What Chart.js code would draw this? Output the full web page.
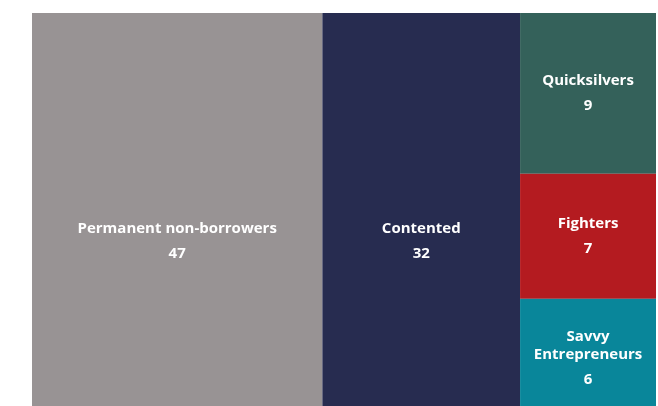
<!DOCTYPE html>
<html>
<head>
<meta charset="utf-8">
<script src="https://cdn.jsdelivr.net/npm/chart.js@4/dist/chart.umd.min.js"></script>
<style>
  html, body { margin: 0; padding: 0; background: #ffffff; }
  #wrap { width: 658px; height: 406px; position: relative; }
</style>
</head>
<body>
<div id="wrap"><canvas id="treeChart"></canvas></div>
<script>
// segments and their share
var categories = ["Permanent non-borrowers", "Contented", "Quicksilvers", "Fighters", "Savvy Entrepreneurs"];
var values = [47, 32, 9, 7, 6];
// which segments share a column (left to right, top to bottom)
var columns = [[0], [1], [2, 3, 4]];
var cellColors = ["#989394", "#272c50", "#34615a", "#b41b20", "#09869a"];

var total = values.reduce(function (a, b) { return a + b; }, 0);

// build cells in data units: x along total, y from 0 to 1
function buildCells() {
  var cells = [];
  var x0 = 0;
  columns.forEach(function (col) {
    var colSum = col.reduce(function (a, i) { return a + values[i]; }, 0);
    var y0 = 0;
    col.forEach(function (i) {
      var h = values[i] / colSum;
      cells.push({ idx: i, x0: x0, x1: x0 + colSum, y0: y0, y1: y0 + h, full: col.length === 1 });
      y0 += h;
    });
    x0 += colSum;
  });
  return cells;
}

function wrapText(ctx, text, maxW) {
  if (ctx.measureText(text).width <= maxW) return [text];
  var words = text.split(" ");
  var lines = [];
  var cur = "";
  words.forEach(function (w) {
    var test = cur ? cur + " " + w : w;
    if (cur && ctx.measureText(test).width > maxW) {
      lines.push(cur);
      cur = w;
    } else {
      cur = test;
    }
  });
  if (cur) lines.push(cur);
  return lines;
}

var treemapPlugin = {
  id: "treemapCells",
  beforeDatasetsDraw: function (chart) {
    var ctx = chart.ctx;
    var xs = chart.scales.x;
    var ys = chart.scales.y;
    var cells = buildCells();
    ctx.save();
    cells.forEach(function (c) {
      var left = xs.getPixelForValue(c.x0);
      var right = xs.getPixelForValue(c.x1);
      var top = ys.getPixelForValue(c.y0);
      var bottom = ys.getPixelForValue(c.y1);
      ctx.fillStyle = cellColors[c.idx];
      ctx.fillRect(left, top, right - left, bottom - top);
    });
    ctx.fillStyle = "#ffffff";
    ctx.textAlign = "center";
    ctx.textBaseline = "middle";
    ctx.font = "bold 15px 'Open Sans', sans-serif";
    cells.forEach(function (c) {
      var left = xs.getPixelForValue(c.x0);
      var right = xs.getPixelForValue(c.x1);
      var top = ys.getPixelForValue(c.y0);
      var bottom = ys.getPixelForValue(c.y1);
      var lines = wrapText(ctx, categories[c.idx], right - left - 16);
      var lineH = 18;
      var gap = 25;
      var blockH = (lines.length - 1) * lineH + gap;
      var cx = (left + right) / 2;
      // full-height columns carry their labels a bit below the middle
      var anchor = c.full ? 0.58 : (lines.length > 1 ? 0.55 : 0.5);
      var y = top + (bottom - top) * anchor - blockH / 2;
      lines.forEach(function (ln, k) {
        ctx.fillText(ln, cx, y + k * lineH);
      });
      ctx.fillText(String(values[c.idx]), cx, y + (lines.length - 1) * lineH + gap);
    });
    ctx.restore();
  }
};

document.addEventListener("DOMContentLoaded", function () {
  new Chart(document.getElementById("treeChart"), {
    type: "scatter",
    data: { datasets: [{ data: [] }] },
    options: {
      responsive: true,
      maintainAspectRatio: false,
      animation: false,
      layout: { padding: { left: 32, top: 13, right: 2, bottom: 0 } },
      plugins: { legend: { display: false }, tooltip: { enabled: false } },
      scales: {
        x: { type: "linear", min: 0, max: total, display: false },
        y: { type: "linear", min: 0, max: 1, reverse: true, display: false }
      }
    },
    plugins: [treemapPlugin]
  });
});
</script>
</body>
</html>
